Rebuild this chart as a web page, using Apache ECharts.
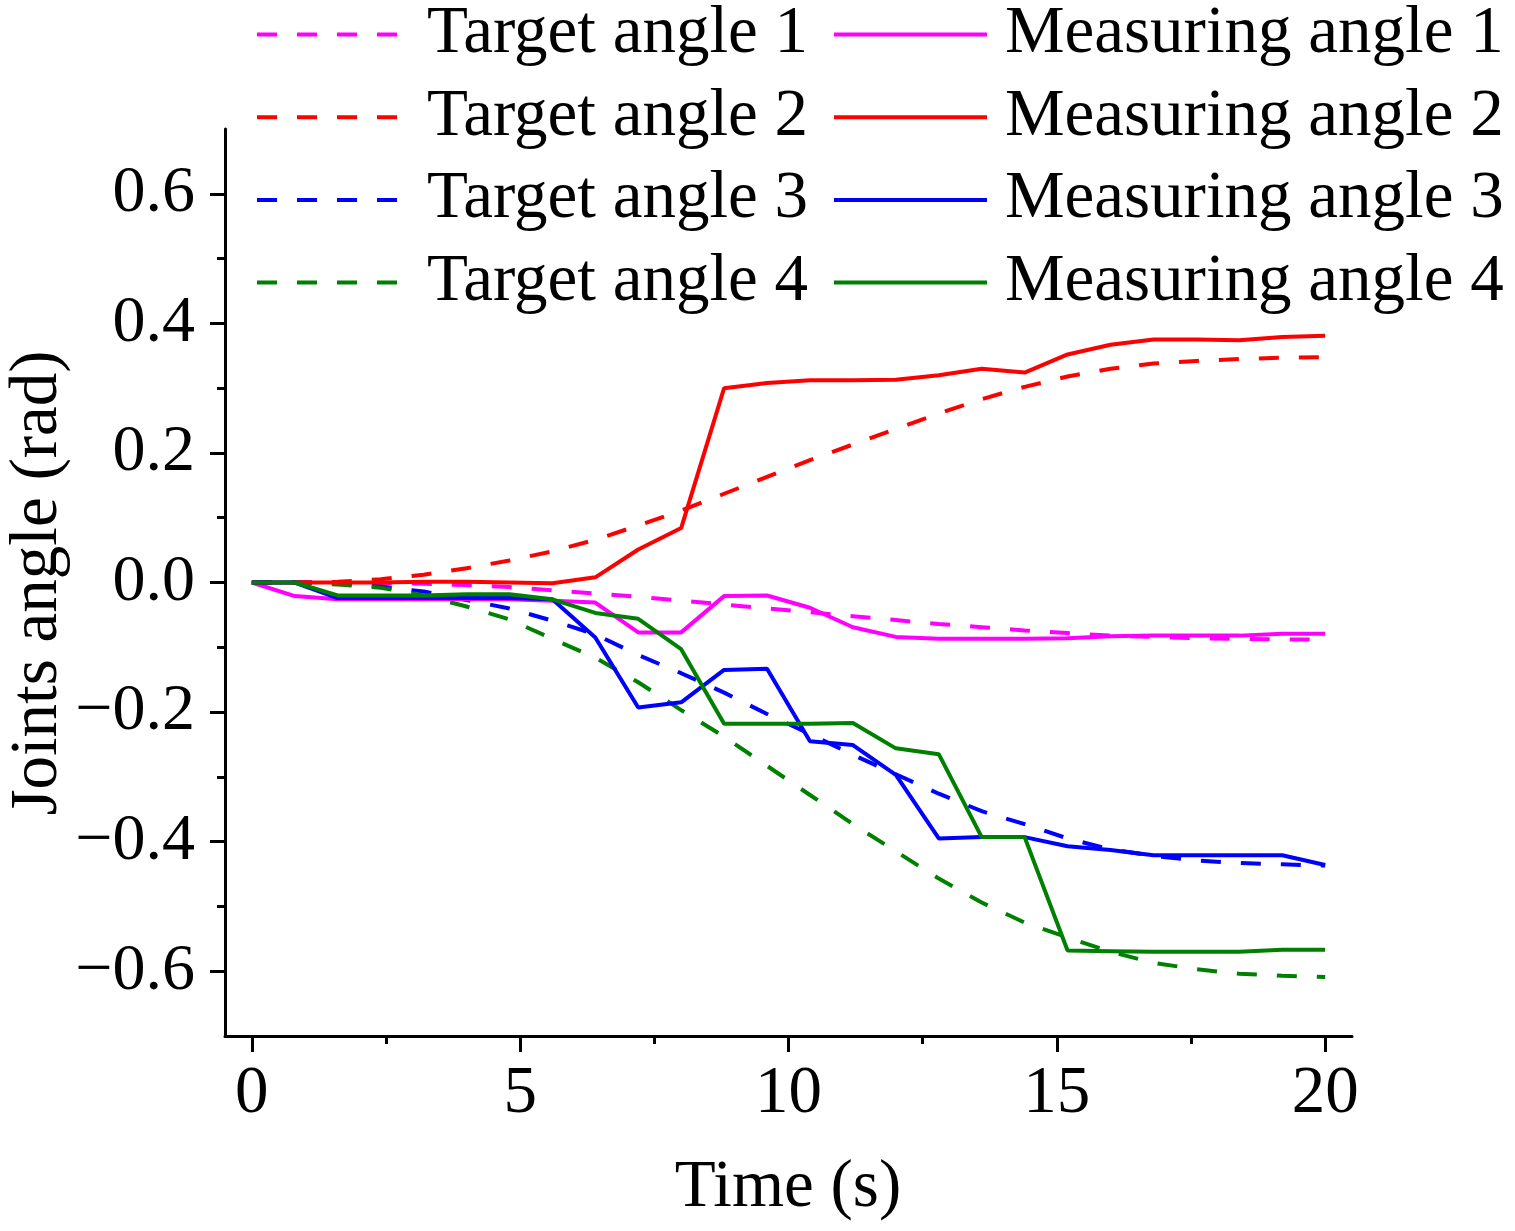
<!DOCTYPE html>
<html>
<head>
<meta charset="utf-8">
<script src="https://cdn.jsdelivr.net/npm/echarts@6/dist/echarts.min.js"></script>
<style>
html,body{margin:0;padding:0;background:#fff;}
#chart{width:1515px;height:1231px;}
</style>
</head>
<body>
<div id="chart"></div>
<script>
var time = [0,0.8,1.6,2.4,3.2,4.0,4.8,5.6,6.4,7.2,8.0,8.8,9.6,10.4,11.2,12.0,12.8,13.6,14.4,15.2,16.0,16.8,17.6,18.4,19.2,20.0];

var target1 = [0,0,-0.001,-0.001,-0.002,-0.004,-0.007,-0.012,-0.017,-0.022,-0.028,-0.034,-0.040,-0.046,-0.052,-0.058,-0.064,-0.069,-0.074,-0.078,-0.082,-0.084,-0.086,-0.087,-0.088,-0.088];
var measured1 = [0,-0.021,-0.026,-0.026,-0.026,-0.026,-0.026,-0.028,-0.031,-0.077,-0.077,-0.021,-0.020,-0.039,-0.069,-0.084,-0.087,-0.087,-0.087,-0.086,-0.083,-0.082,-0.082,-0.082,-0.079,-0.079];

var target2 = [0,0,0.001,0.005,0.012,0.022,0.034,0.048,0.066,0.088,0.111,0.137,0.163,0.189,0.213,0.237,0.261,0.283,0.302,0.318,0.330,0.338,0.342,0.345,0.347,0.348];
var measured2 = [0,0,0,0,0.001,0.001,0,-0.001,0.008,0.051,0.084,0.300,0.308,0.312,0.312,0.313,0.320,0.330,0.324,0.352,0.367,0.375,0.375,0.374,0.379,0.381];

var target3 = [0,0,-0.001,-0.006,-0.014,-0.027,-0.040,-0.059,-0.080,-0.112,-0.140,-0.170,-0.203,-0.234,-0.266,-0.296,-0.326,-0.353,-0.373,-0.395,-0.412,-0.422,-0.429,-0.433,-0.435,-0.437];
var measured3 = [0,0,-0.024,-0.024,-0.024,-0.024,-0.024,-0.026,-0.085,-0.193,-0.185,-0.135,-0.133,-0.245,-0.251,-0.297,-0.395,-0.393,-0.393,-0.407,-0.413,-0.421,-0.421,-0.421,-0.421,-0.436];

var target4 = [0,0,-0.003,-0.008,-0.020,-0.037,-0.057,-0.087,-0.116,-0.154,-0.197,-0.238,-0.283,-0.328,-0.373,-0.415,-0.457,-0.494,-0.525,-0.548,-0.570,-0.587,-0.597,-0.604,-0.607,-0.609];
var measured4 = [0,0,-0.020,-0.020,-0.020,-0.018,-0.018,-0.026,-0.047,-0.056,-0.103,-0.218,-0.218,-0.218,-0.217,-0.256,-0.265,-0.393,-0.393,-0.568,-0.569,-0.570,-0.570,-0.570,-0.567,-0.567];

var targetNames = ['Target angle 1','Target angle 2','Target angle 3','Target angle 4'];
var measuredNames = ['Measuring angle 1','Measuring angle 2','Measuring angle 3','Measuring angle 4'];
var colors = ['#FF00FF','#FF0000','#0000FF','#008000'];

var xMajor = [0,5,10,15,20];
var xMinor = [2.5,7.5,12.5,17.5];
var yMajor = [-0.6,-0.4,-0.2,0,0.2,0.4,0.6];
var yMinor = [-0.5,-0.3,-0.1,0.1,0.3,0.5];

var FONT = '"Liberation Serif", "Times New Roman", serif';

function pairs(ys){ return time.map(function(t,i){ return [t, ys[i]]; }); }

var targets = [target1,target2,target3,target4];
var measured = [measured1,measured2,measured3,measured4];

var series = [];
for (var i=0;i<4;i++){
  series.push({
    name: targetNames[i], type:'line', xAxisIndex:0, yAxisIndex:0,
    data: pairs(targets[i]), symbol:'none', showSymbol:false,
    lineStyle:{color:colors[i], width:4, type:[20,20]},
    itemStyle:{color:colors[i]}, z:2
  });
  series.push({
    name: measuredNames[i], type:'line', xAxisIndex:0, yAxisIndex:0,
    data: pairs(measured[i]), symbol:'none', showSymbol:false,
    lineStyle:{color:colors[i], width:4, type:'solid'},
    itemStyle:{color:colors[i]}, z:3
  });
}

var axisLineStyle = {color:'#000', width:3};
var legendItemStyle = {color:'rgba(0,0,0,0)', borderColor:'rgba(0,0,0,0)', borderWidth:0};

var option = {
  animation:false,
  backgroundColor:'#fff',
  grid:{left:225, top:129, width:1127, height:907},
  legend:[
    {
      data: targetNames, orient:'vertical', left:255, top:1, padding:0,
      itemWidth:145, itemHeight:14, itemGap:15.7,
      itemStyle:legendItemStyle, lineStyle:{width:4},
      textStyle:{fontFamily:FONT, fontSize:67, lineHeight:67, color:'#000', padding:[0,0,0,20]},
      selectedMode:false
    },
    {
      data: measuredNames, orient:'vertical', left:832, top:1, padding:0,
      itemWidth:153, itemHeight:14, itemGap:15.7,
      itemStyle:legendItemStyle, lineStyle:{width:4},
      textStyle:{fontFamily:FONT, fontSize:67, lineHeight:67, color:'#000', padding:[0,0,0,13]},
      selectedMode:false
    }
  ],
  xAxis:[
    {
      type:'value', min:-0.5, max:20.5, position:'bottom',
      axisLine:{show:true, onZero:false, lineStyle:axisLineStyle},
      axisTick:{show:true, inside:false, length:16, customValues:xMajor, lineStyle:axisLineStyle},
      axisLabel:{customValues:xMajor, fontFamily:FONT, fontSize:67, color:'#000', margin:25,
        formatter:function(v){ return String(v); }},
      splitLine:{show:false}
    },
    {
      type:'value', min:-0.5, max:20.5, position:'bottom', offset:0,
      axisLine:{show:false, onZero:false},
      axisTick:{show:true, inside:false, length:8, customValues:xMinor, lineStyle:axisLineStyle},
      axisLabel:{show:false},
      splitLine:{show:false}
    }
  ],
  yAxis:[
    {
      type:'value', min:-0.7, max:0.7, position:'left',
      axisLine:{show:true, onZero:false, lineStyle:axisLineStyle},
      axisTick:{show:true, inside:false, length:15, customValues:yMajor, lineStyle:axisLineStyle},
      axisLabel:{customValues:yMajor, fontFamily:FONT, fontSize:66, color:'#000', margin:30,
        formatter:function(v){ return (v < -1e-9 ? '\u2212' : '') + Math.abs(v).toFixed(1); }},
      splitLine:{show:false}
    },
    {
      type:'value', min:-0.7, max:0.7, position:'left', offset:0,
      axisLine:{show:false, onZero:false},
      axisTick:{show:true, inside:false, length:8, customValues:yMinor, lineStyle:axisLineStyle},
      axisLabel:{show:false},
      splitLine:{show:false}
    }
  ],
  graphic:[
    {type:'text', x:38, y:583, rotation:Math.PI/2,
      style:{text:'Joints angle (rad)', font:'67px ' + FONT, fill:'#000', textAlign:'center', textVerticalAlign:'middle'}},
    {type:'text', x:788, y:1188,
      style:{text:'Time (s)', font:'67px ' + FONT, fill:'#000', textAlign:'center', textVerticalAlign:'middle'}}
  ],
  series: series
};

var chart = echarts.init(document.getElementById('chart'), null, {renderer:'canvas'});
chart.setOption(option);
</script>
</body>
</html>
